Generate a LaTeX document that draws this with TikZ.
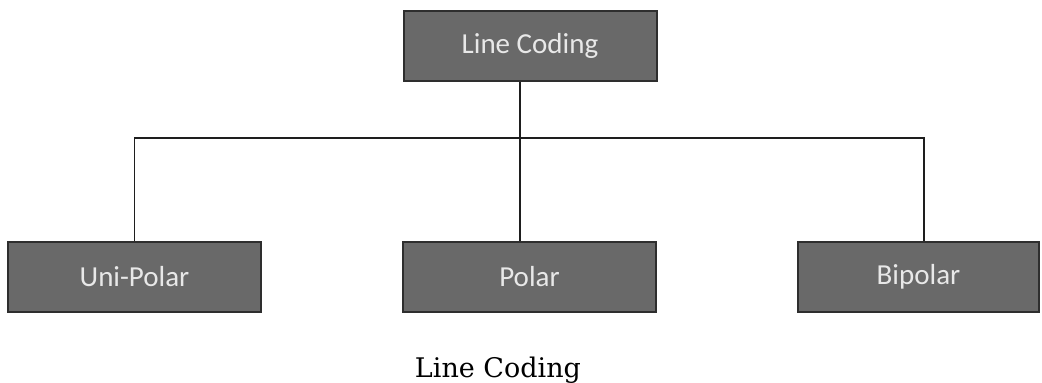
\documentclass[tikz,border=0pt]{standalone}
\usepackage{fontspec}
\setmainfont{Carlito}
\newfontfamily\capfont{DejaVu Serif}
\usetikzlibrary{positioning}
\definecolor{lcbox}{HTML}{696969}
\definecolor{lcedge}{HTML}{2E2E2E}
\definecolor{lctext}{HTML}{E8E8E8}
\definecolor{lcline}{HTML}{1E1E1E}

\begin{document}
\begin{tikzpicture}[x=1pt,y=-1pt,
  codebox/.style={draw=lcedge, line width=2pt, fill=lcbox, text=lctext, minimum height=70pt, inner sep=0pt, font=\fontsize{29}{31}\selectfont},
  link/.style={lcline, line width=1.5pt}]
 \useasboundingbox (0,0) rectangle (1042,383);
 \node[codebox, minimum width=253pt] (root) at (530,46) {Line Coding};
 \foreach \n/\x/\w/\t in {uni/134.5/253/Uni-Polar, pol/529.5/253/Polar, bip/918.5/241/Bipolar}
   \node[codebox, minimum width=\w pt] (\n) at (\x,277) {\t};
 \coordinate (split) at (520,138);
 \coordinate (bipin) at (924,241);
 \draw[link] (root.south -| split) -- (split);
 \draw[link] (uni.north) |- (split) -| (bipin);
 \draw[link] (split) -- (pol.north -| split);
 \node[font=\capfont\fontsize{27}{29}\selectfont, anchor=base] (caption) at (498,377) {Line Coding};
\end{tikzpicture}
\end{document}
